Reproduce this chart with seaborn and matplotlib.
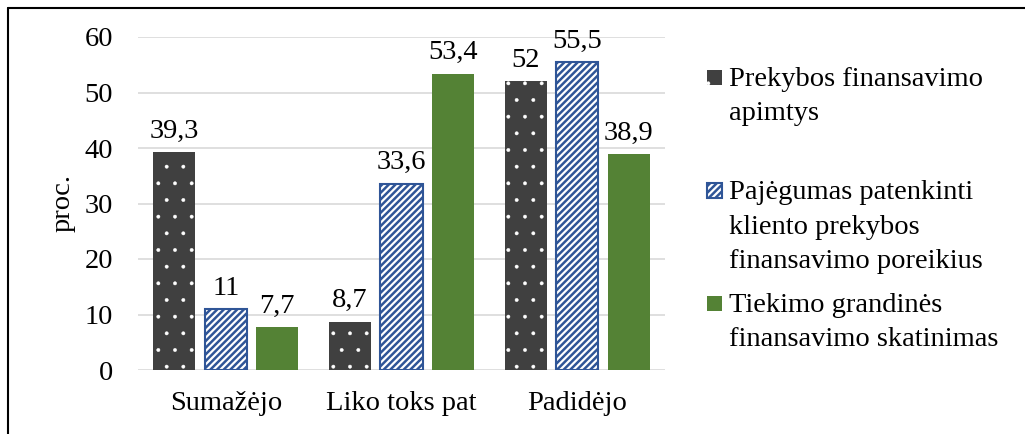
import numpy as np
import pandas as pd
import matplotlib
matplotlib.use("Agg")
import matplotlib.pyplot as plt
import seaborn as sns
from matplotlib.patches import Rectangle
from matplotlib.lines import Line2D

# ---- data -------------------------------------------------------------
categories = ["Sumažėjo", "Liko toks pat", "Padidėjo"]
series = [
    "Prekybos finansavimo\napimtys",
    "Pajėgumas patenkinti\nkliento prekybos\nfinansavimo poreikius",
    "Tiekimo grandinės\nfinansavimo skatinimas",
]
apimtys = [39.3, 8.7, 52.0]
pajegumas = [11.0, 33.6, 55.5]
skatinimas = [7.7, 53.4, 38.9]
yticks = [0, 10, 20, 30, 40, 50, 60]
ylabel = "proc."

values = [apimtys, pajegumas, skatinimas]

rows = []
for name, vals in zip(series, values):
    for cat, v in zip(categories, vals):
        rows.append({"Kategorija": cat, "Rodiklis": name, "Reikšmė": v})
df = pd.DataFrame(rows)

# ---- styling ----------------------------------------------------------
sns.set_theme(style="white")
plt.rcParams["font.family"] = ["Liberation Serif", "DejaVu Serif"]
plt.rcParams["hatch.linewidth"] = 2.0
FS = 20.5

DARK = "#404040"
BLUE = "#2F5597"
GREEN = "#548235"

# facecolor, edgecolor, hatch, linewidth, hatch linewidth
styles = [
    (DARK, "white", ".", 0.0, 0.3),
    ("white", BLUE, "/////", 1.5, 1.8),
    (GREEN, GREEN, None, 0.0, 1.0),
]

def style_patch(p, fc, ec, hatch, lw, hlw):
    p.set_facecolor(fc)
    p.set_edgecolor(ec)
    p.set_hatch(hatch)
    p.set_linewidth(lw)
    if hasattr(p, "set_hatch_linewidth"):
        p.set_hatch_linewidth(hlw)
    else:
        p._hatch_linewidth = hlw

W, H = 1025, 434
fig = plt.figure(figsize=(W / 100, H / 100), dpi=100)
ax = fig.add_axes([138 / W, (H - 370) / H, 527 / W, (370 - 37) / H])

sns.barplot(
    data=df, x="Kategorija", y="Reikšmė", hue="Rodiklis",
    order=categories, hue_order=series,
    palette=[DARK, BLUE, GREEN], saturation=1,
    width=0.88, gap=0.18, errorbar=None, legend=False, ax=ax,
)

def fmt(v):
    return f"{v:g}".replace(".", ",")

for container, st, vals in zip(ax.containers, styles, values):
    for bar in container:
        style_patch(bar, *st)
    ax.bar_label(container, labels=[fmt(v) for v in vals],
                 padding=6, fontsize=FS, color="black")

ax.set_ylim(0, 60)
ax.set_yticks(yticks)
ax.set_yticklabels([str(t) for t in yticks])
ax.grid(axis="y", color="#D9D9D9", linewidth=1.2)
ax.set_axisbelow(True)
for s in ax.spines.values():
    s.set_visible(False)
ax.tick_params(axis="y", length=0, labelsize=FS, pad=18, labelcolor="black")
ax.tick_params(axis="x", length=0, labelsize=FS, pad=15, labelcolor="black")
ax.set_xlabel("")
ax.set_ylabel(ylabel, fontsize=FS, color="black")
ax.yaxis.set_label_coords(-0.118, 0.5)

# ---- legend on the right ---------------------------------------------
first_baselines = [86, 199, 312]
line_step = 34.5
for st, name, yb in zip(styles, series, first_baselines):
    sq = Rectangle((707 / W, 1 - (yb - 1) / H), 15 / W, 15 / H,
                   transform=fig.transFigure)
    style_patch(sq, *st)
    fig.add_artist(sq)
    lines = name.split("\n")
    for k, line in enumerate(lines):
        fig.text(729 / W, 1 - (yb + k * line_step) / H, line,
                 ha="left", va="baseline", fontsize=FS, color="black")

# ---- outer frame ------------------------------------------------------
fig.add_artist(Line2D([8 / W, 1], [1 - 8 / H, 1 - 8 / H],
                      transform=fig.transFigure, color="black", linewidth=1.5))
fig.add_artist(Line2D([8 / W, 8 / W], [0, 1 - 8 / H],
                      transform=fig.transFigure, color="black", linewidth=1.5))

fig.savefig("out.png", dpi=100)
